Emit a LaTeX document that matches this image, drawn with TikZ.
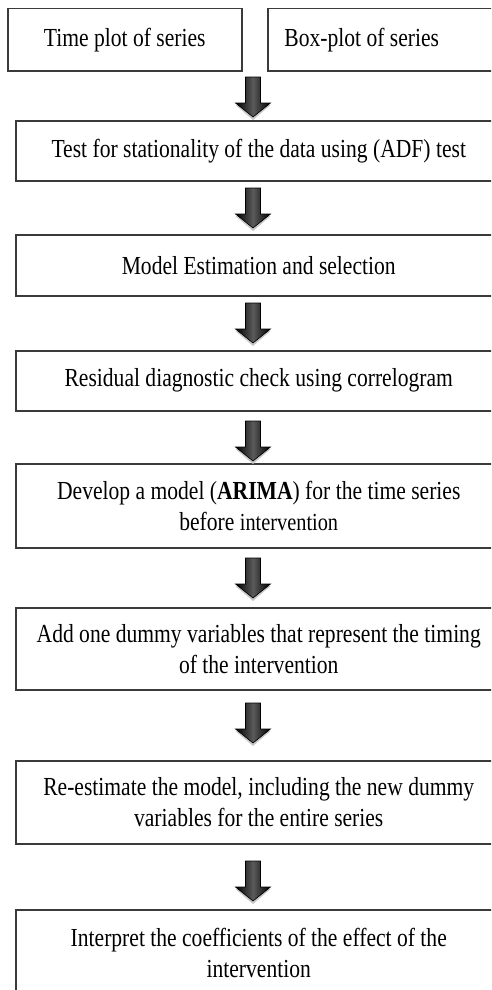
\documentclass[tikz,border=0pt]{standalone}
\usepackage{fontspec}
\setmainfont[FakeStretch=0.83]{Liberation Serif}
\definecolor{boxgray}{HTML}{3A3A3A}
\definecolor{arrmid}{HTML}{5A5A5A}
\tikzset{
  box/.style={draw=boxgray, line width=1.5pt, anchor=north west, inner sep=0pt,
    align=center, font=\fontsize{26}{31}\selectfont},
  blockarrow/.pic={
    \fill[gray!45] (-17.5,28) -- (17.5,28) -- (0,43) -- cycle;
    \shadedraw[left color=black, right color=black, middle color=arrmid,
      draw=black, line width=0.6pt, line join=miter]
      (-7.5,0) -- (7.5,0) -- (7.5,26) -- (17.5,26) -- (0,40) -- (-17.5,26) -- (-7.5,26) -- cycle;
  }
}
\begin{document}
\begin{tikzpicture}[x=1pt, y=-1pt]
\useasboundingbox (0,0) rectangle (491,990);
\clip (0,0) rectangle (491,990);
\node[box, minimum width=234pt, minimum height=62pt] (b1) at (7,8) {Time plot of series};
\node[box, minimum width=240pt, minimum height=62pt] (b2) at (267,8) {\hspace*{-52pt}Box-plot of series};
\node[box, minimum width=486pt, minimum height=60pt] (b3) at (15,120) {Test for stationality of the data using (ADF) test};
\node[box, minimum width=486pt, minimum height=61pt] (b4) at (15,234) {Model Estimation and selection};
\node[box, minimum width=486pt, minimum height=60pt] (b5) at (15,350) {Residual diagnostic check using correlogram};
\node[box, minimum width=486pt, minimum height=84pt] (b6) at (15,463) {Develop a model (\textbf{ARIMA}) for the time series\\ before {\fontsize{24.5}{31}\selectfont intervention}};
\node[box, minimum width=486pt, minimum height=82pt] (b7) at (15,607) {Add one dummy variables that represent the timing\\ of the intervention};
\node[box, minimum width=486pt, minimum height=83pt] (b8) at (15,760) {Re-estimate the model, including the new dummy\\ variables for the entire series};
\node[box, minimum width=486pt, minimum height=87pt] (b9) at (15,909) {Interpret the coefficients of the effect of the\\ intervention};
\pic at (253,77) {blockarrow};
\pic at (253,188) {blockarrow};
\pic at (253,303) {blockarrow};
\pic at (253,421) {blockarrow};
\pic at (253,558) {blockarrow};
\pic at (253,703) {blockarrow};
\pic at (253,861) {blockarrow};
\end{tikzpicture}
\end{document}
